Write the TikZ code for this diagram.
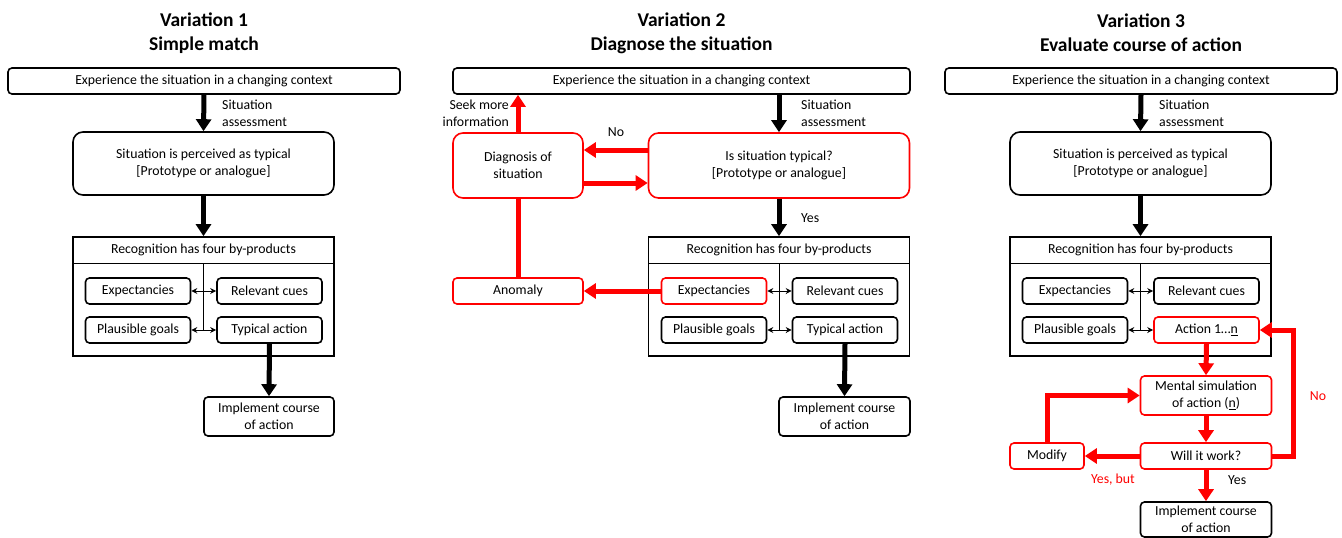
\documentclass[tikz,border=0pt]{standalone}
\usepackage{fontspec}
\setmainfont{Carlito}
\usetikzlibrary{arrows.meta}
\definecolor{rd}{RGB}{255,0,0}
\begin{document}
\begin{tikzpicture}[x=1pt,y=-1pt,
  font=\fontsize{13.8}{17}\selectfont,
  bx/.style={draw, line width=1.6pt, rounded corners=4pt, minimum height=26pt, inner sep=0pt, align=center},
  big/.style={bx, rounded corners=10pt},
  rbx/.style={bx, draw=rd},
  rbig/.style={big, draw=rd},
  rec/.style={draw, line width=1.6pt, inner sep=0pt},
  hdr/.style={draw, line width=1pt, inner sep=0pt, anchor=north},
  title/.style={font=\fontsize{19.5}{24}\selectfont\bfseries, align=center},
  lbl/.style={align=left, anchor=west, inner sep=0pt},
  flow/.style={line width=5pt, -{Triangle[width=15pt,length=12pt]}},
  rflow/.style={flow, draw=rd},
  rline/.style={line width=5pt, draw=rd},
  thinln/.style={line width=0.9pt},
  dbl/.style={line width=0.9pt, {Stealth[length=6pt,width=6pt]}-{Stealth[length=6pt,width=6pt]}},
]
\useasboundingbox (0,0) rectangle (1342,538);

% ---------- Variation 1 ----------
\node[title] (v1) at (204,33) {Variation 1\\Simple match};
\node[bx, minimum width=392pt] (t1) at (204,81) {Experience the situation in a changing context};
\node[big, minimum width=261pt, minimum height=63pt] (s1) at (203.5,163.5) {Situation is perceived as typical\\{[}Prototype or analogue{]}};
\node[rec, minimum width=261pt, minimum height=119pt] (r1) at (203.5,296.5) {};
\node[hdr, minimum width=261pt, minimum height=27pt] (h1) at (r1.north) {Recognition has four by-products};
\node[bx, minimum width=105pt] (ex1) at (138,291) {Expectancies};
\node[bx, minimum width=105pt] (rc1) at (269.5,291) {Relevant cues};
\node[bx, minimum width=105pt] (pg1) at (138,330) {Plausible goals};
\node[bx, minimum width=105pt] (ta1) at (269.5,330) {Typical action};
\node[bx, minimum width=130pt, minimum height=39pt] (im1) at (269,416.5) {Implement course\\of action};
\node[lbl] (sa1) at (222,113) {Situation\\assessment};

\draw[flow] (t1.south) -- (s1.north);
\draw[flow] (s1.south) -- (r1.north);
\draw[thinln] (h1.south) -- (h1.south |- pg1.east);
\draw[dbl] (ex1.east) -- (rc1.west);
\draw[dbl] (pg1.east) -- (ta1.west);
\draw[flow] (ta1.south) -- (im1.north);

% ---------- Variation 2 ----------
\node[title] (v2) at (681.5,33) {Variation 2\\Diagnose the situation};
\node[bx, minimum width=457pt] (t2) at (681.5,81) {Experience the situation in a changing context};
\node[rbig, minimum width=261pt, minimum height=65pt] (is2) at (779,165.5) {Is situation typical?\\{[}Prototype or analogue{]}};
\node[rbig, minimum width=130pt, minimum height=65pt] (dg2) at (518,165.5) {Diagnosis of\\situation};
\node[rec, minimum width=261pt, minimum height=119pt] (r2) at (779,296.5) {};
\node[hdr, minimum width=261pt, minimum height=27pt] (h2) at (r2.north) {Recognition has four by-products};
\node[rbx, minimum width=105pt] (ex2) at (714,291) {Expectancies};
\node[bx, minimum width=105pt] (rc2) at (845,291) {Relevant cues};
\node[bx, minimum width=105pt] (pg2) at (714,330) {Plausible goals};
\node[bx, minimum width=105pt] (ta2) at (845,330) {Typical action};
\node[rbx, minimum width=130pt] (an2) at (518,291) {Anomaly};
\node[bx, minimum width=131pt, minimum height=39pt] (im2) at (844.5,416.5) {Implement course\\of action};
\node[lbl] (sa2) at (801,113) {Situation\\assessment};
\node[align=right, anchor=east, inner sep=0pt] (sm2) at (509,113) {Seek more\\information};
\node[inner sep=0pt] (no2) at (616,132) {No};
\node[lbl] (ys2) at (801,218) {Yes};

\draw[flow] (is2.north |- t2.south) -- (is2.north);
\draw[flow] (is2.south) -- (r2.north);
\draw[rflow] ([yshift=15.5pt]is2.west) -- ([yshift=15.5pt]dg2.east);
\draw[rflow] ([yshift=-17.5pt]dg2.east) -- ([yshift=-17.5pt]is2.west);
\draw[rflow] (dg2.north) -- (dg2.north |- t2.south);
\draw[rline] (an2.north) -- (dg2.south);
\draw[rflow] (ex2.west) -- (an2.east);
\draw[thinln] (h2.south) -- (h2.south |- pg2.east);
\draw[dbl] (ex2.east) -- (rc2.west);
\draw[dbl] (pg2.east) -- (ta2.west);
\draw[flow] (ta2.south) -- (im2.north);

% ---------- Variation 3 ----------
\node[title] (v3) at (1141,33) {Variation 3\\Evaluate course of action};
\node[bx, minimum width=392pt] (t3) at (1141,81) {Experience the situation in a changing context};
\node[big, minimum width=261pt, minimum height=63pt] (s3) at (1140.5,163.5) {Situation is perceived as typical\\{[}Prototype or analogue{]}};
\node[rec, minimum width=261pt, minimum height=119pt] (r3) at (1140.5,296.5) {};
\node[hdr, minimum width=261pt, minimum height=27pt] (h3) at (r3.north) {Recognition has four by-products};
\node[bx, minimum width=105pt] (ex3) at (1075,291) {Expectancies};
\node[bx, minimum width=105pt] (rc3) at (1206.5,291) {Relevant cues};
\node[bx, minimum width=105pt] (pg3) at (1075,330) {Plausible goals};
\node[rbx, minimum width=105pt] (ac3) at (1206.5,330) {Action 1…\underline{n}};
\node[rbx, minimum width=131pt, minimum height=39pt] (ms3) at (1206,395.5) {Mental simulation\\of action (\underline{n})};
\node[rbx, minimum width=131pt] (wi3) at (1206,456) {Will it work?};
\node[rbx, minimum width=74pt] (md3) at (1047,456) {Modify};
\node[bx, minimum width=131pt, minimum height=35pt] (im3) at (1206,519.5) {Implement course\\of action};
\node[lbl] (sa3) at (1159,113) {Situation\\assessment};
\node[inner sep=0pt, text=rd] (yb3) at (1113,480) {Yes, but};
\node[lbl] (ys3) at (1228,480) {Yes};
\node[inner sep=0pt, text=rd] (no3) at (1318,396) {No};

\draw[flow] (t3.south) -- (s3.north);
\draw[flow] (s3.south) -- (r3.north);
\draw[thinln] (h3.south) -- (h3.south |- pg3.east);
\draw[dbl] (ex3.east) -- (rc3.west);
\draw[dbl] (pg3.east) -- (ac3.west);
\draw[rflow] (ac3.south) -- (ms3.north);
\draw[rflow] (ms3.south) -- (wi3.north);
\draw[rflow] (wi3.west) -- (md3.east);
\draw[rflow] (md3.north) |- (ms3.west);
\draw[rflow] (wi3.east) -- ++(21.5,0) |- (ac3.east);
\draw[rflow] (wi3.south) -- (im3.north);
\end{tikzpicture}
\end{document}
